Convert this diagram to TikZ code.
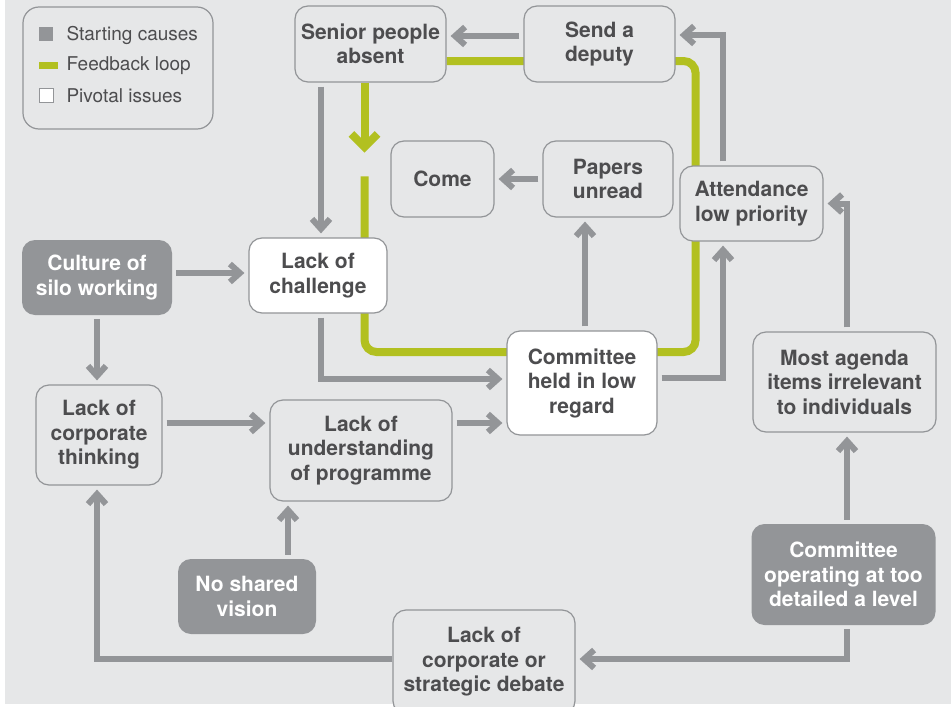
\documentclass[tikz,border=0pt]{standalone}
\usepackage{fontspec}
\setmainfont{TeX Gyre Heros}
\usepackage{xcolor}
\definecolor{mapbg}{RGB}{230,231,232}
\definecolor{mapline}{RGB}{147,149,152}
\definecolor{mapgreen}{RGB}{178,192,32}
\definecolor{mapdark}{RGB}{77,77,79}
\usetikzlibrary{arrows.meta,positioning,calc}
\pgfdeclarelayer{back}
\pgfsetlayers{back,main}

\begin{document}
\begin{tikzpicture}[x=1pt,y=-1pt,
  box/.style={rounded corners=13pt, align=center, inner sep=0pt, font=\fontsize{21}{24.5}\selectfont\bfseries, text=mapdark},
  issue/.style={box, draw=mapline, line width=1.2pt, fill=mapbg},
  pivot/.style={issue, fill=white},
  cause/.style={box, fill=mapline, text=white},
  keytext/.style={anchor=west, font=\fontsize{19}{22}\selectfont, text=mapdark},
  link/.style={draw=mapline, line width=6pt, -{Straight Barb[length=10pt,width=18pt]}, shorten <=4pt, shorten >=4pt},
  loopline/.style={draw=mapgreen, line width=8pt, rounded corners=12pt}]
  \useasboundingbox (0,0) rectangle (951,707);

  % Legend
  \node[issue, minimum width=190pt, minimum height=122pt, rounded corners=16pt] (legend) at (118,68) {};
  \fill[mapline] (39,27) rectangle (53,41);
  \fill[mapgreen] (39,62) rectangle (58,69);
  \draw[mapline, fill=white, line width=1pt] (39,88) rectangle (53,102);
  \node[keytext] (keycause) at (63,35) {Starting causes};
  \node[keytext] (keyloop) at (63,66) {Feedback loop};
  \node[keytext] (keypivot) at (63,96) {Pivotal issues};

  % Top row
  \node[issue, minimum width=151pt, minimum height=76pt] (senior) at (370.5,44) {Senior people\\absent};
  \node[issue, minimum width=151pt, minimum height=76pt] (deputy) at (599.5,44) {Send a\\deputy};
  \node[issue, minimum width=103pt, minimum height=76pt] (come) at (442.5,179) {Come};
  \node[issue, minimum width=130pt, minimum height=76pt] (papers) at (608,179) {Papers\\unread};
  \node[issue, minimum width=143pt, minimum height=75pt] (attend) at (751.5,203.5) {Attendance\\low priority};

  % Middle row
  \node[cause, minimum width=150pt, minimum height=75pt] (silo) at (97,277.5) {Culture of\\silo working};
  \node[pivot, minimum width=138pt, minimum height=75pt] (challenge) at (318,275.5) {Lack of\\challenge};
  \node[pivot, minimum width=150pt, minimum height=104pt] (regard) at (582,383) {Committee\\held in low\\regard};
  \node[issue, minimum width=183pt, minimum height=100pt] (agenda) at (844.5,382) {Most agenda\\items irrelevant\\to individuals};
  \node[issue, minimum width=126pt, minimum height=100pt] (thinking) at (99,435) {Lack of\\corporate\\thinking};
  \node[issue, minimum width=182pt, minimum height=101pt] (underst) at (361,450.5) {Lack of\\understanding\\of programme};

  % Bottom row
  \node[cause, minimum width=138pt, minimum height=75pt] (vision) at (247,596.5) {No shared\\vision};
  \node[cause, minimum width=184pt, minimum height=101pt] (detail) at (843.5,574.5) {Committee\\operating at too\\detailed a level};
  \node[issue, minimum width=182pt, minimum height=104pt] (debate) at (484,662) {Lack of\\corporate or\\strategic debate};

  % Feedback loop
  \begin{pgfonlayer}{back}
    \fill[mapbg] (5,0) rectangle (951,704);
    \draw[loopline] ($(challenge.north)+(46.5,-61)$) |- ($(regard.west)+(0,-31)$)
      -- ($(regard.east)+(0,-31)$) -| ($(deputy.east)+(20,17)$) -- ($(senior.east)+(0,17)$);
  \end{pgfonlayer}
  \draw[loopline, -{Straight Barb[length=13pt,width=26pt]}] ($(senior.south)+(-6,0)$) -- ($(senior.south)+(-6,70)$);

  % Causes and effects
  \draw[link] ($(deputy.west)+(0,-8)$) -- ($(senior.east)+(0,-8)$);
  \draw[link] ($(attend.north)+(-28.5,0)$) |- ($(deputy.east)+(0,-9)$);
  \draw[link] ($(senior.south)+(-49.5,0)$) -- ($(challenge.north)+(3,0)$);
  \draw[link] ($(silo.east)+(0,-4.5)$) -- ($(challenge.west)+(0,-2.5)$);
  \draw[link] (silo.south) -- ($(thinking.north)+(-2,0)$);
  \draw[link] ($(challenge.south)+(3,0)$) |- ($(regard.west)+(0,-4)$);
  \draw[link] ($(thinking.east)+(0,-12)$) -- ($(underst.west)+(0,-27.5)$);
  \draw[link] ($(underst.east)+(0,-27.5)$) -- ($(regard.west)+(0,40)$);
  \draw[link] ($(vision.north)+(41,0)$) -- ($(underst.south)+(-73,0)$);
  \draw[link, shorten <=0pt] ($(debate.west)+(0,-3)$) -| ($(thinking.south)+(-2,0)$);
  \draw[link] ($(regard.north)+(3,0)$) -- ($(papers.south)+(-23,0)$);
  \draw[link] (papers.west) -- (come.east);
  \draw[link] ($(regard.east)+(0,-5)$) -| ($(attend.south)+(-28.5,0)$);
  \draw[link] ($(agenda.north)+(2.5,0)$) |- (attend.east);
  \draw[link] ($(detail.north)+(3.5,0)$) -- ($(agenda.south)+(2.5,0)$);
  \draw[link] ($(detail.south)+(3.5,0)$) |- ($(debate.east)+(0,-3)$);
\end{tikzpicture}
\end{document}
